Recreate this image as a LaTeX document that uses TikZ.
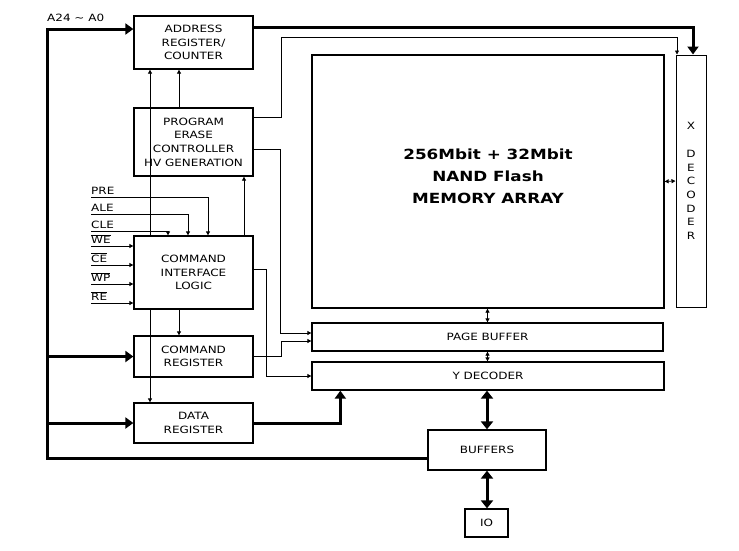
\documentclass[tikz,border=0pt]{standalone}
\usepackage{fontspec}
\setmainfont{DejaVu Sans}[FakeStretch=1.2]
\usetikzlibrary{arrows.meta}
\tikzstyle{diagram} = [x = 1pt, y = -1pt, every node/.style={font=\fontsize{10}{13.7}\selectfont}]
\tikzstyle{block} = [draw, line width=1.3pt, align=center, inner sep=0pt]
\tikzstyle{regBlock} = [block, minimum width=119pt]
\tikzstyle{sigLabel} = [anchor=base west, inner sep=0pt, yshift=2.5pt]
\tikzstyle{signalLine} = [line width=0.8pt, -{Triangle[length=4pt, width=4pt]}]
\tikzstyle{signalBoth} = [line width=0.8pt, {Triangle[length=4pt, width=4pt]}-{Triangle[length=4pt, width=4pt]}]
\tikzstyle{busLine} = [line width=3pt, -{Triangle[length=8pt, width=11pt]}]
\tikzstyle{busBoth} = [line width=3pt, {Triangle[length=8pt, width=12pt]}-{Triangle[length=8pt, width=12pt]}]
\newcommand{\activeLow}[1]{$\overline{\mbox{#1}}$}
\begin{document}
\begin{tikzpicture}[diagram]
  \useasboundingbox (0,0) rectangle (739,550);
  % left column
  \node[regBlock, minimum height=53pt] (addrReg) at (193.5,42.5) {ADDRESS\\REGISTER/\\COUNTER};
  \node[regBlock, minimum height=68pt] (progCtrl) at (193.5,142) {PROGRAM\\ERASE\\CONTROLLER\\HV GENERATION};
  \node[regBlock, minimum height=73pt] (cmdLogic) at (193.5,272.5) {COMMAND\\INTERFACE\\LOGIC};
  \node[regBlock, minimum height=41pt] (cmdReg) at (193.5,356.5) {COMMAND\\REGISTER};
  \node[regBlock, minimum height=40pt] (dataReg) at (193.5,423) {DATA\\REGISTER};
  % right column
  \node[block, minimum width=352pt, minimum height=253pt] (memArray) at (488,181.5) {};
  \node[font=\fontsize{14}{22}\selectfont\bfseries, align=center] (memLabel) at (488,176) {256Mbit + 32Mbit\\NAND Flash\\MEMORY ARRAY};
  \node[block, line width=1pt, minimum width=30pt, minimum height=252pt] (xDecoder) at (691,181) {X\\[14pt]D\\E\\C\\O\\D\\E\\R};
  \node[block, minimum width=351pt, minimum height=28pt] (pageBuf) at (487.5,337) {PAGE BUFFER};
  \node[block, minimum width=352pt, minimum height=28pt] (yDecoder) at (488,376) {Y DECODER};
  \node[block, minimum width=118pt, minimum height=40pt] (buffers) at (487,450) {BUFFERS};
  \node[block, minimum width=43pt, minimum height=28pt] (io) at (486.5,523) {IO};
  % address / data bus
  \coordinate (busTop) at (47,29);
  \coordinate (busBottom) at (47,458);
  \node[anchor=base west, inner sep=0pt] (addrLabel) at (47,21) {A24 \textasciitilde{} A0};
  \draw[busLine] ([yshift=-8pt]buffers.west) -- (busBottom) -- (busTop) -- ([yshift=13.5pt]addrReg.west);
  \draw[busLine] (busBottom |- cmdReg.west) -- (cmdReg.west);
  \draw[busLine] (busBottom |- dataReg.west) -- (dataReg.west);
  \draw[busLine] ([yshift=15.5pt]addrReg.east) -| ([xshift=2pt]xDecoder.north);
  \draw[busLine] (dataReg.east) -| ([xshift=29pt]yDecoder.south west);
  \draw[busBoth] (buffers.north) -- (buffers.north |- yDecoder.south);
  \draw[busBoth] (buffers.south) -- (buffers.south |- io.north);
  % control lines
  \draw[signalLine] ([xshift=-14.5pt]progCtrl.north) -- ([xshift=-14.5pt]addrReg.south);
  \draw[signalLine] ([xshift=-43.5pt]cmdLogic.north) -- ([xshift=-43.5pt]addrReg.south);
  \draw[signalLine] ([xshift=-43.5pt]cmdLogic.south) -- ([xshift=-43.5pt]dataReg.north);
  \draw[signalLine] ([xshift=-14.5pt]cmdLogic.south) -- ([xshift=-14.5pt]cmdReg.north);
  \draw[signalLine] ([xshift=50.5pt]cmdLogic.north) -- ([xshift=50.5pt]progCtrl.south);
  \draw[signalLine] ([yshift=25pt]progCtrl.east) -| (281,37) -| ([xshift=1.5pt]xDecoder.north west);
  \draw[signalLine] ([yshift=-7pt]progCtrl.east) -| (280,333) -- ([yshift=4pt]pageBuf.west);
  \draw[signalLine] (cmdReg.east) -| (281,341) -- ([yshift=-4pt]pageBuf.west);
  \draw[signalLine] ([yshift=3.5pt]cmdLogic.east) -| (266,376) -- (yDecoder.west);
  \draw[signalBoth] (pageBuf.north) -- (pageBuf.north |- memArray.south);
  \draw[signalBoth] (pageBuf.south) -- (pageBuf.south |- yDecoder.north);
  \draw[signalBoth] (memArray.east) -- (xDecoder.west);
  % input signals
  \foreach \sig/\ypos/\xend in {PRE/197/14.5, ALE/214/-5.5, CLE/231/-25.5} {
    \coordinate (sig\sig) at (91,\ypos);
    \node[sigLabel] (label\sig) at (sig\sig) {\sig};
    \draw[signalLine] (sig\sig) -| ([xshift=\xend pt]cmdLogic.north);
  }
  \foreach \sig/\ypos in {WE/246, CE/265, WP/284, RE/303} {
    \coordinate (sig\sig) at (91,\ypos);
    \node[sigLabel] (label\sig) at (sig\sig) {\activeLow{\sig}};
    \draw[signalLine] (sig\sig) -- (sig\sig -| cmdLogic.west);
  }
\end{tikzpicture}
\end{document}
